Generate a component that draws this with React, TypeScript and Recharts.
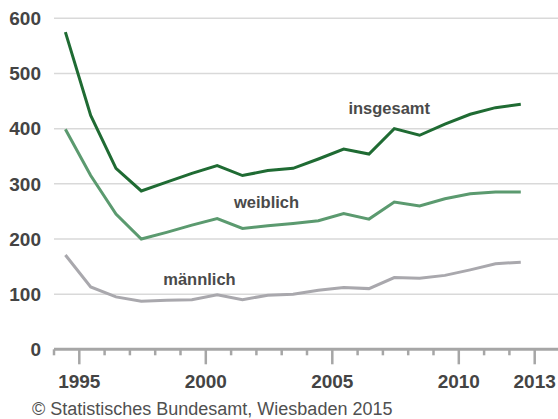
import React from 'react';
import { LineChart, Line, XAxis, YAxis, CartesianGrid, ReferenceDot } from 'recharts';

const years = [1994, 1995, 1996, 1997, 1998, 1999, 2000, 2001, 2002, 2003, 2004, 2005, 2006, 2007, 2008, 2009, 2010, 2011, 2012];
const insgesamt = [575, 424, 328, 287, 303, 319, 333, 315, 324, 328, 345, 363, 354, 400, 388, 408, 426, 438, 444];
const weiblich = [399, 315, 245, 200, 212, 225, 237, 219, 224, 228, 233, 246, 236, 267, 260, 273, 282, 285, 285];
const maennlich = [171, 113, 95, 87, 89, 90, 99, 90, 98, 100, 107, 112, 110, 130, 129, 134, 144, 155, 158];

const yTicks = [0, 100, 200, 300, 400, 500, 600];
const xTicks = [1994, 1995, 1996, 1997, 1998, 1999, 2000, 2001, 2002, 2003, 2004, 2005, 2006, 2007, 2008, 2009, 2010, 2011, 2012, 2013];
const majorYears = [1995, 2000, 2005, 2010, 2013];

const seriesLabels = [
  { text: 'insgesamt', year: 2007.25, value: 437 },
  { text: 'weiblich', year: 2002.4, value: 267 },
  { text: 'männlich', year: 1999.75, value: 128 },
];

// annual values sit in the middle of the year
const data = years.map((y, i) => ({
  x: y + 0.45,
  insgesamt: insgesamt[i],
  weiblich: weiblich[i],
  maennlich: maennlich[i],
}));

const FONT = '"Liberation Sans", Arial, sans-serif';
const AXIS_GRAY = '#a6a6a6';

const YearTick: React.FC<any> = ({ x, y, payload }) => {
  const major = majorYears.includes(payload.value);
  return (
    <g>
      <line x1={x} x2={x} y1={y} y2={y + (major ? 15 : 6)} stroke={AXIS_GRAY} strokeWidth={2.5} />
      {major && (
        <text x={x} y={y + 32} textAnchor="middle" dominantBaseline="central" fill="#444" fontSize={19} fontWeight="bold" fontFamily={FONT}>
          {payload.value}
        </text>
      )}
    </g>
  );
};

const App: React.FC = () => {
  return (
    <div style={{ position: 'absolute', left: 0, top: 0, width: 558, height: 419, overflow: 'hidden', background: '#fff' }}>
      <LineChart width={562} height={419} data={data} margin={{ top: 18.3, right: 2, bottom: 0, left: 0 }}>
        <CartesianGrid vertical={false} stroke="#d9d9d9" strokeWidth={1.5} />
        <XAxis
          type="number"
          dataKey="x"
          domain={[1994, 2014]}
          ticks={xTicks}
          interval={0}
          allowDataOverflow
          height={69.7}
          tickLine={false}
          tickSize={0}
          tickMargin={0}
          axisLine={{ stroke: AXIS_GRAY, strokeWidth: 3 }}
          tick={<YearTick />}
        />
        <YAxis
          type="number"
          domain={[0, 600]}
          ticks={yTicks}
          width={54}
          axisLine={false}
          tickLine={false}
          tickSize={0}
          tickMargin={13}
          tick={{ fill: '#444', fontSize: 19, fontWeight: 'bold', fontFamily: FONT }}
        />
        <Line type="linear" dataKey="maennlich" stroke="#a9a8ad" strokeWidth={3} dot={false} activeDot={false} isAnimationActive={false} />
        <Line type="linear" dataKey="weiblich" stroke="#5b9a6f" strokeWidth={3} dot={false} activeDot={false} isAnimationActive={false} />
        <Line type="linear" dataKey="insgesamt" stroke="#1f6b33" strokeWidth={3} dot={false} activeDot={false} isAnimationActive={false} />
        {seriesLabels.map((l) => (
          <ReferenceDot
            key={l.text}
            x={l.year}
            y={l.value}
            r={0}
            fill="none"
            stroke="none"
            label={{ value: l.text, position: 'center', fill: '#4a4a4a', fontSize: 16.5, fontWeight: 'bold', fontFamily: FONT }}
          />
        ))}
      </LineChart>
      <div style={{ position: 'absolute', left: 32, top: 399, fontFamily: FONT, fontSize: 18, lineHeight: '20px', color: '#505050', whiteSpace: 'nowrap' }}>
        © Statistisches Bundesamt, Wiesbaden 2015
      </div>
    </div>
  );
};

export default App;
